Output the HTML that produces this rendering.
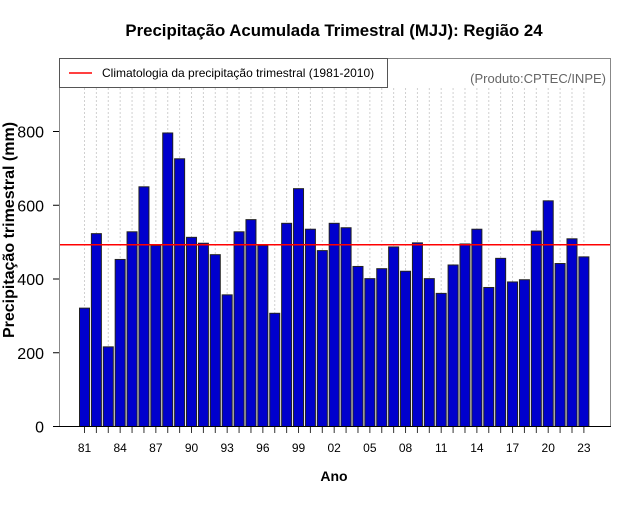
<!DOCTYPE html>
<html><head><meta charset="utf-8"><style>
body{margin:0;background:#fff;}
svg text{font-family:"Liberation Sans",sans-serif;}
</style></head><body>
<svg id="chart" width="640" height="500" xmlns="http://www.w3.org/2000/svg">
<text x="334" y="36" text-anchor="middle" font-size="16.8" font-weight="bold">Precipitação Acumulada Trimestral (MJJ): Região 24</text>
<g id="grid"></g>
<g id="bars"></g>
<line id="clim" stroke="#ff0000" stroke-width="1.5"/>
<rect x="59.5" y="58.5" width="551" height="368" fill="none" stroke="#888"/>
<line x1="59" y1="426.5" x2="611" y2="426.5" stroke="#000"/>
<g id="xaxis"></g>
<g id="yaxis"></g>
<g>
<rect x="59.5" y="58.5" width="328" height="29" fill="#fff" stroke="#555"/>
<line x1="69" y1="73" x2="92" y2="73" stroke="#ff0000" stroke-width="1.5"/>
<text x="102" y="77" font-size="12">Climatologia da precipitação trimestral (1981-2010)</text>
</g>
<text x="606" y="83" text-anchor="end" font-size="13" fill="#666">(Produto:CPTEC/INPE)</text>
<text x="334" y="481" text-anchor="middle" font-size="14" font-weight="bold">Ano</text>
<text transform="translate(14,230) rotate(-90)" text-anchor="middle" font-size="16" font-weight="bold">Precipitação trimestral (mm)</text>
</svg>
<script>
const years = [1981,1982,1983,1984,1985,1986,1987,1988,1989,1990,1991,1992,1993,1994,1995,1996,1997,1998,1999,2000,2001,2002,2003,2004,2005,2006,2007,2008,2009,2010,2011,2012,2013,2014,2015,2016,2017,2018,2019,2020,2021,2022,2023];
const values = [321,523,216,453,528,650,491,796,726,513,497,466,357,528,561,491,307,551,645,535,477,551,539,434,401,428,487,421,498,401,361,438,495,535,377,456,392,398,530,612,442,509,460];
const climatology = 493;
const yTicks = [0,200,400,600,800];
const NS='http://www.w3.org/2000/svg';
const x0=84.5, step=11.89, bw=10;
const xPos = i => x0 + i*step;
const yPos = v => 426.5 - v*0.36875;
function mk(tag, attrs, parent){const e=document.createElementNS(NS,tag);for(const k in attrs)e.setAttribute(k,attrs[k]);parent.appendChild(e);return e;}
const grid=document.getElementById('grid'), bars=document.getElementById('bars'), xa=document.getElementById('xaxis'), ya=document.getElementById('yaxis');
years.forEach((yr,i)=>{
  const x=xPos(i);
  const g=mk('line',{x1:x,y1:88,x2:x,y2:426,stroke:'#d0d0d0','stroke-dasharray':'2,2'},grid);
  
  
  const b=mk('rect',{x:x-bw/2,y:yPos(values[i]),width:bw,height:426.5-yPos(values[i]),fill:'#0000cd',stroke:'#222','stroke-width':1},bars);
  
  
  const t=mk('line',{x1:x,y1:427,x2:x,y2:433,stroke:'#333'},xa);
  
  
  if(i%3===0){
    const l=mk('text',{x:x,y:452,'text-anchor':'middle','font-size':12},xa);
    l.textContent=String(yr%100).padStart(2,'0');
    
    
  }
});
const c=document.getElementById('clim');
c.setAttribute('x1',60);c.setAttribute('x2',610);c.setAttribute('y1',yPos(climatology));c.setAttribute('y2',yPos(climatology));
yTicks.forEach(v=>{
  const y=yPos(v);
  const t=mk('line',{x1:53,y1:y,x2:59,y2:y,stroke:'#000'},ya);
  
  
  const l=mk('text',{x:44,y:y+6,'text-anchor':'end','font-size':16},ya);
  l.textContent=v;
  
  
});
</script>
</body></html>
